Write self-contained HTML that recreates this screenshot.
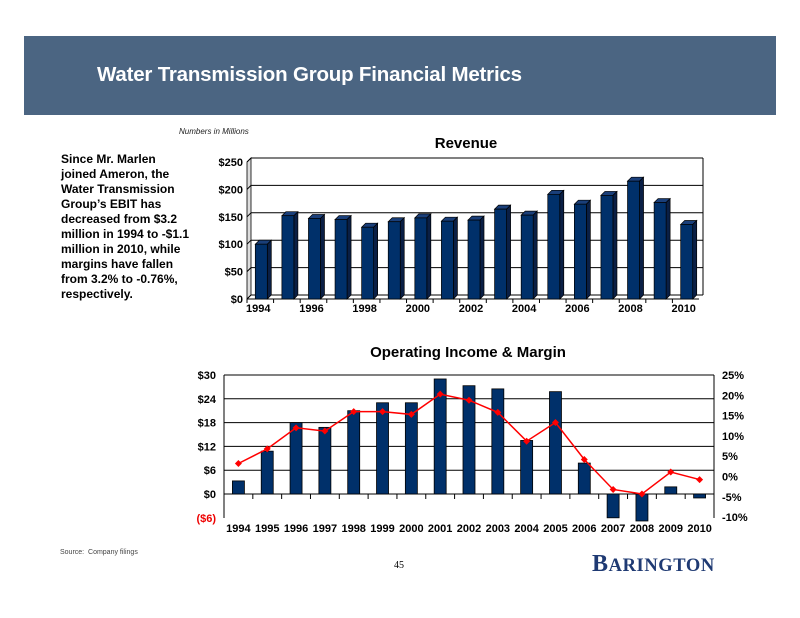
<!DOCTYPE html>
<html><head><meta charset="utf-8"><style>
body{margin:0;width:800px;height:618px;background:#fff;position:relative;overflow:hidden;font-family:"Liberation Sans",Arial,sans-serif}
.abs{position:absolute}
</style></head><body>
<div class="abs" style="left:24px;top:36px;width:752px;height:79px;background:#4b6582"></div>
<div class="abs" style="left:97px;top:63px;color:#fff;font-weight:bold;font-size:20.5px;letter-spacing:-0.2px">Water Transmission Group Financial Metrics</div>
<div class="abs" style="left:179px;top:127px;font-size:8px;font-style:italic;color:#222">Numbers in Millions</div>
<div class="abs" style="left:61px;top:152px;width:180px;font-size:12px;font-weight:bold;line-height:15px;color:#000;white-space:nowrap">Since Mr. Marlen<br>joined Ameron, the<br>Water Transmission<br>Group’s EBIT has<br>decreased from $3.2<br>million in 1994 to -$1.1<br>million in 2010, while<br>margins have fallen<br>from 3.2% to -0.76%,<br>respectively.</div>
<div class="abs" style="left:60px;top:549px;font-size:7px;color:#444">Source:&nbsp; Company filings</div>
<div class="abs" style="left:394px;top:560px;font-size:10px;font-family:'Liberation Serif',serif">45</div>
<div class="abs" style="left:592px;top:551px;font-family:'Liberation Serif',serif;font-weight:bold;color:#1f3a73;font-size:18.5px;letter-spacing:0.6px"><span style="font-size:24px">B</span>ARINGTON</div>
<svg class="abs" style="left:0;top:0" width="800" height="618" id="svg"></svg>
<script>
const years=["1994","1995","1996","1997","1998","1999","2000","2001","2002","2003","2004","2005","2006","2007","2008","2009","2010"];
const revenue=[100,152,147,145,131,141,148,142,144,164,153,191,173,189,215,176,136];
const revTicks=[0,50,100,150,200,250];
const income=[3.3,10.8,18,16.8,21,23,23,29,27.3,26.5,13.5,25.8,7.8,-6,-6.8,1.8,-1];
const margin=[3.2,6.8,12,11.2,16,16,15.3,20.3,18.8,15.8,8.7,13.3,4.2,-3.2,-4.3,1.1,-0.76];
const incTicks=[-6,0,6,12,18,24,30];
const marTicks=[-10,-5,0,5,10,15,20,25];
const S=document.getElementById('svg');const NS='http://www.w3.org/2000/svg';
function mk(t,a,name,txt){const e=document.createElementNS(NS,t);for(const k in a)e.setAttribute(k,a[k]);


if(txt!==undefined)e.textContent=txt;S.appendChild(e);return e;}
// Revenue
mk('text',{x:466,y:148,'font-size':15,'font-weight':'bold','text-anchor':'middle','font-family':'Liberation Sans'},'revenue-title','Revenue');
const rx0=251,rx1=703,ry=v=>295-v*(137/250),rw=(rx1-rx0)/17;
mk('polygon',{points:`${rx0-4},162 ${rx0},158 ${rx0},295 ${rx0-4},299`,fill:'#ddd',stroke:'#000','stroke-width':0.8},'revenue-side-wall');
revTicks.forEach(t=>{const y=ry(t);mk('line',{x1:rx0,x2:rx1,y1:y,y2:y,stroke:'#000','stroke-width':1},'revenue-gridline');
mk('line',{x1:rx0-4,x2:rx0,y1:y+4,y2:y},'revenue-grid-diag').setAttribute('stroke','#000');
mk('text',{x:rx0-8,y:y+8,'font-size':11,'font-weight':'bold','text-anchor':'end'},'revenue-y-tick','$'+t);});
mk('line',{x1:rx1,x2:rx1,y1:158,y2:295,stroke:'#000'},'revenue-right-border');
mk('line',{x1:rx0-4,x2:rx1-4,y1:299,y2:299,stroke:'#000'},'revenue-x-axis');
revenue.forEach((v,i)=>{const x=rx0+i*rw+rw/2-9,y=ry(v)+4,b=299,w=12;
mk('polygon',{points:`${x},${y} ${x+4},${y-4} ${x+w+4},${y-4} ${x+w},${y}`,fill:'#1a3f7a',stroke:'#000','stroke-width':0.7},'revenue-bar-top');
mk('polygon',{points:`${x+w},${y} ${x+w+4},${y-4} ${x+w+4},${b-4} ${x+w},${b}`,fill:'#0a1f45',stroke:'#000','stroke-width':0.7},'revenue-bar-side');
mk('rect',{x:x,y:y,width:w,height:b-y,fill:'#00306a',stroke:'#000','stroke-width':0.7},'revenue-bar-'+years[i]);
mk('line',{x1:rx0-4+i*rw,x2:rx0-4+i*rw,y1:299,y2:303,stroke:'#000'},'revenue-x-tick');
if(i%2==0)mk('text',{x:rx0+i*rw+rw/2-6,y:312,'font-size':11,'font-weight':'bold','text-anchor':'middle'},'revenue-x-label',years[i]);});
// Operating income
mk('text',{x:468,y:357,'font-size':15,'font-weight':'bold','text-anchor':'middle'},'income-title','Operating Income & Margin');
const ox0=224,ox1=714,oy=v=>494-v*(119/30),my=v=>476.5-v*(142/35),ow=(ox1-ox0)/17;
incTicks.forEach(t=>{const y=oy(t);if(t!==-6)mk('line',{x1:ox0,x2:ox1,y1:y,y2:y,stroke:'#000','stroke-width':1},'income-gridline');
mk('text',{x:ox0-8,y:y+4,'font-size':11,'font-weight':'bold','text-anchor':'end',fill:t<0?'#e00':'#000'},'income-y-tick',t<0?'($'+(-t)+')':'$'+t);});
marTicks.forEach(t=>{mk('text',{x:ox1+8,y:my(t)+4,'font-size':11,'font-weight':'bold'},'margin-y-tick',t+'%');});
mk('line',{x1:ox0,x2:ox0,y1:375,y2:518,stroke:'#000'},'income-left-axis');
mk('line',{x1:ox1,x2:ox1,y1:375,y2:518,stroke:'#000'},'margin-right-axis');
income.forEach((v,i)=>{const cx=ox0+i*ow+ow/2,w=12,y0=oy(0),y=oy(v);
mk('rect',{x:cx-w/2,y:Math.min(y,y0),width:w,height:Math.abs(y-y0),fill:'#00306a',stroke:'#000','stroke-width':0.8},'income-bar-'+years[i]);
if(i>0)mk('line',{x1:ox0+i*ow,x2:ox0+i*ow,y1:494,y2:499,stroke:'#000'},'income-x-tick');
mk('text',{x:cx,y:532,'font-size':11,'font-weight':'bold','text-anchor':'middle'},'income-x-label',years[i]);});
mk('polyline',{points:margin.map((v,i)=>(ox0+i*ow+ow/2)+','+my(v)).join(' '),fill:'none',stroke:'#f00','stroke-width':1.5},'margin-line');
margin.forEach((v,i)=>{const cx=ox0+i*ow+ow/2,y=my(v);
mk('polygon',{points:`${cx},${y-3.5} ${cx+3.5},${y} ${cx},${y+3.5} ${cx-3.5},${y}`,fill:'#f00'},'margin-point-'+years[i]);});
</script>
</body></html>
